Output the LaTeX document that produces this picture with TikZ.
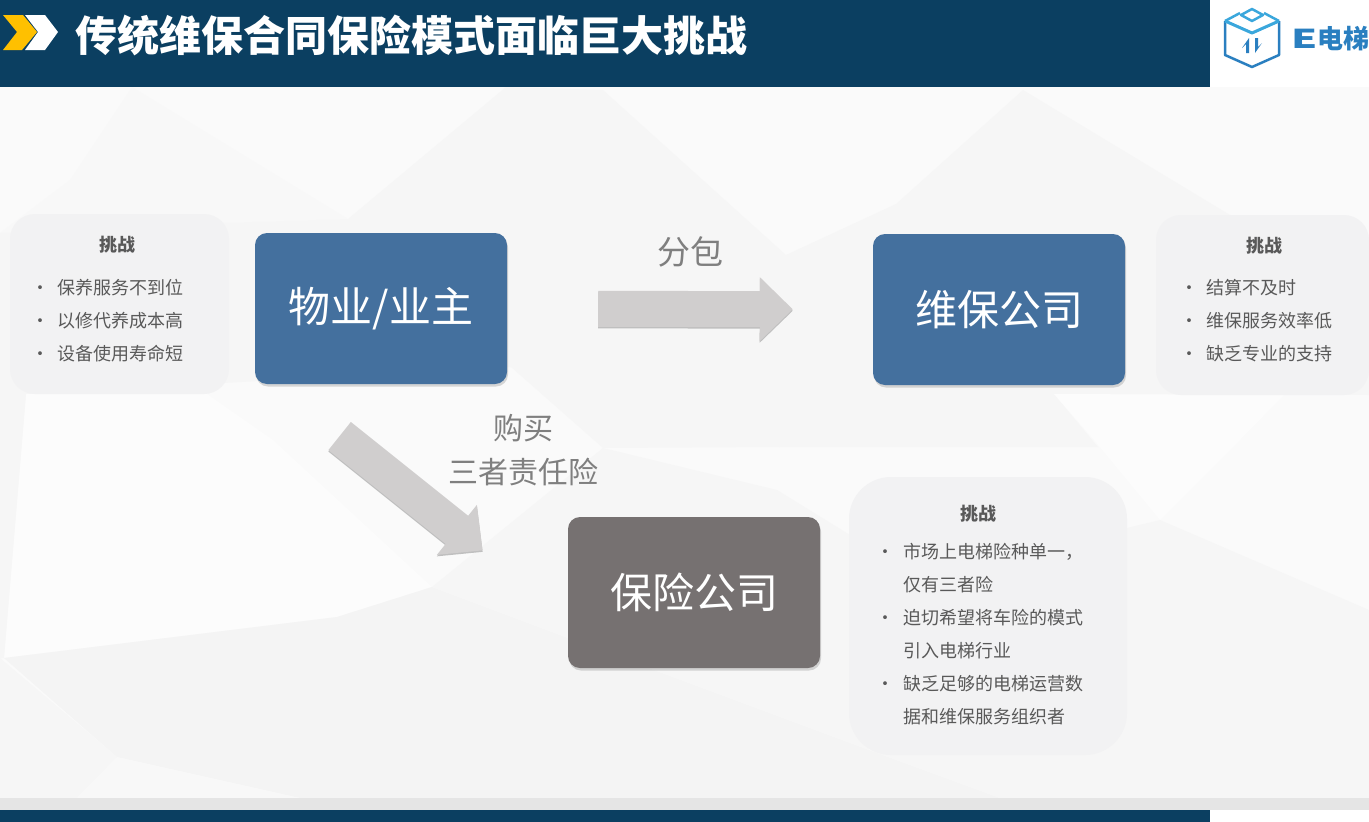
\documentclass[tikz,border=0pt]{standalone}
\usepackage{fontspec}
\usepackage{graphicx}
\setmainfont{Noto Sans CJK SC}
\usetikzlibrary{arrows.meta,calc,shadows}
\definecolor{navy}{HTML}{0B3F61}
\definecolor{boxblue}{HTML}{44709E}
\definecolor{boxgray}{HTML}{767171}
\definecolor{arrowgray}{HTML}{D0CECE}
\definecolor{panelgray}{HTML}{F2F2F3}
\definecolor{listgray}{HTML}{595959}
\definecolor{labelgray}{HTML}{7F7F7F}
\definecolor{logodark}{HTML}{2A7FC0}
\definecolor{logolight}{HTML}{3AA7DC}
\definecolor{chevronyellow}{HTML}{FFC000}
\definecolor{facetbase}{HTML}{FAFAFA}
\definecolor{facetpale}{HTML}{FCFCFC}
\definecolor{facetmid}{HTML}{F8F8F8}
\definecolor{facetdark}{HTML}{F6F6F6}
\definecolor{facetdeep}{HTML}{F4F4F4}
\newcommand{\bulletdot}[1]{\makebox[#1][l]{•}}
\begin{document}
\begin{tikzpicture}[
		x=1pt,y=-1pt,
		company/.style={rectangle,rounded corners=12pt,minimum width=252pt,minimum height=151pt,inner sep=0pt,text=white,font=\fontsize{42}{50}\selectfont,drop shadow={shadow xshift=1pt,shadow yshift=-2.5pt,opacity=.3}},
		panel/.style={rectangle,fill=panelgray,inner sep=0pt},
		paneltitle/.style={inner sep=0pt,text=listgray,font=\fontsize{18}{22}\selectfont\bfseries},
		paneltext/.style={anchor=west,inner sep=0pt,align=left,text=listgray,font=\fontsize{18}{33}\selectfont},
		arrowlabel/.style={inner sep=0pt,align=center,text=labelgray},
		blockarrow/.style={line width=36pt,draw=arrowgray,-{Triangle[length=33pt,width=62pt]}},
		blockshadow/.style={blockarrow,draw=black!25,transform canvas={yshift=-1.5pt}}
	]
	\useasboundingbox (0,0) rectangle (1369,822);
	\fill[white] (0,0) rectangle (1369,822);
	\fill[facetbase] (0,87) rectangle (1369,798);

	\fill[facetmid] (132,87) -- (348,219) -- (220,223) -- (0,233) -- (70,180) -- cycle;
	\fill[facetdark] (348,219) -- (506,87) -- (603,90) -- (786,255) -- (779,447) -- (603,448) -- (511,367) -- cycle;
	\fill[facetdark] (0,233) -- (220,223) -- (348,219) -- (511,367) -- (26,394) -- (0,394) -- cycle;
	\fill[facetdark] (786,255) -- (896,204) -- (1023,90) -- (1230,215) -- (1369,300) -- (1369,395) -- (1054,394) -- (1098,447) -- (779,447) -- cycle;
	\fill[facetpale] (26,394) -- (4,658) -- (337,617) -- (432,587) -- (273,440) -- (207,394) -- cycle;
	\fill[facetdark] (0,233) -- (26,394) -- (4,658) -- (0,658) -- cycle;
	\fill[facetdeep] (4,658) -- (337,617) -- (432,587) -- (568,638) -- (869,750) -- (1000,798) -- (300,798) -- (117,757) -- cycle;
	\fill[facetdark] (0,658) -- (117,757) -- (77,798) -- (0,798) -- cycle;
	\fill[facetmid] (117,757) -- (300,798) -- (77,798) -- cycle;
	\fill[facetdark] (603,448) -- (777,490) -- (850,535) -- (869,750) -- (568,638) -- (432,587) -- cycle;
	\fill[facetdark] (1127,528) -- (1160,520) -- (1369,610) -- (1369,798) -- (1000,798) -- (869,750) -- (1127,700) -- cycle;
	\fill[facetpale] (1094,440) -- (1160,520) -- (1240,440) -- (1284,395) -- (1054,394) -- cycle;

	\fill[black!10] (0,798) rectangle (1369,810);
	\fill[navy] (0,0) rectangle (1210,87);
	\fill[navy] (0,810) rectangle (1210,822);

	\fill[chevronyellow] (3,15) -- (23,15) -- (37,32) -- (22,50) -- (3,50) -- (17,32) -- cycle;
	\fill[white] (25,15) -- (45,15) -- (58,32) -- (45,50) -- (25,50) -- (38,32) -- cycle;
	\node[anchor=west,inner sep=0pt,text=white,font=\fontsize{42}{50}\selectfont\bfseries] (slidetitle) at (75,35.5) {传统维保合同保险模式面临巨大挑战};

	\draw[logodark,line width=2.5pt,line join=round] (1225,21) -- (1225,55) -- (1252,67) -- (1279,55) -- (1279,21);
	\draw[logolight,line width=3pt,line join=round] (1225,21) -- (1252,33) -- (1279,21);
	\draw[logolight,line width=2.5pt] (1225,21) -- (1240,13);
	\draw[logolight,line width=2.5pt] (1279,21) -- (1264,13);
	\draw[logolight,line width=2.5pt,line join=round] (1252,9) -- (1263,15) -- (1252,21) -- (1241,15) -- cycle;
	\fill[logodark] (1249,38) -- (1249,53) -- (1246,53) -- (1246,44) -- (1242,48) -- cycle;
	\fill[logodark] (1255,53) -- (1255,38) -- (1258,38) -- (1258,47) -- (1262,43) -- cycle;
	\node[anchor=west,inner sep=0pt,text=logodark,font=\fontsize{26}{30}\selectfont\bfseries] (logotext) at (1291,39) {\scalebox{1.6}[1]{E}电梯};

	\node[panel,minimum width=219pt,minimum height=180pt,rounded corners=25pt] (leftpanel) at (119.5,304) {};
	\node[panel,minimum width=213pt,minimum height=180pt,rounded corners=25pt] (rightpanel) at (1262.5,305) {};
	\node[panel,minimum width=278pt,minimum height=278pt,rounded corners=42pt] (bottompanel) at (988,616) {};

	\node[paneltitle] (lefttitle) at (117,245) {挑战};
	\node[paneltext] (leftlist) at (31,321) {\bulletdot{26pt}保养服务不到位\\\bulletdot{26pt}以修代养成本高\\\bulletdot{26pt}设备使用寿命短};
	\node[paneltitle] (righttitle) at (1264,246) {挑战};
	\node[paneltext] (rightlist) at (1180,321) {\bulletdot{26pt}结算不及时\\\bulletdot{26pt}维保服务效率低\\\bulletdot{26pt}缺乏专业的支持};
	\node[paneltitle] (bottomtitle) at (978,514) {挑战};
	\node[paneltext] (bottomlist) at (876,634.5) {\bulletdot{27pt}市场上电梯险种单一，\\\hspace*{27pt}仅有三者险\\\bulletdot{27pt}迫切希望将车险的模式\\\hspace*{27pt}引入电梯行业\\\bulletdot{27pt}缺乏足够的电梯运营数\\\hspace*{27pt}据和维保服务组织者};

	\node[company,fill=boxblue] (wuye) at (381,308.5) {物业/业主};
	\node[company,fill=boxblue] (weibao) at (999,309.5) {维保公司};
	\node[company,fill=boxgray] (baoxian) at (694,592.5) {保险公司};

	\node[arrowlabel,font=\fontsize{33}{40}\selectfont] (fenbao) at (690,252) {分包};
	\node[arrowlabel,font=\fontsize{30}{44}\selectfont] (goumai) at (523.5,450.5) {购买\\三者责任险};

	\draw[blockshadow,shorten <=91pt,shorten >=80pt] (wuye.east) -- (weibao.west);
	\draw[blockarrow,shorten <=91pt,shorten >=80pt] (wuye.east) -- (weibao.west);
	\draw[blockshadow,shorten <=83pt,shorten >=109pt] ($(wuye.south west)+(20,0)$) -- ($(baoxian.west)+(0,26)$);
	\draw[blockarrow,shorten <=83pt,shorten >=109pt] ($(wuye.south west)+(20,0)$) -- ($(baoxian.west)+(0,26)$);
\end{tikzpicture}
\end{document}
